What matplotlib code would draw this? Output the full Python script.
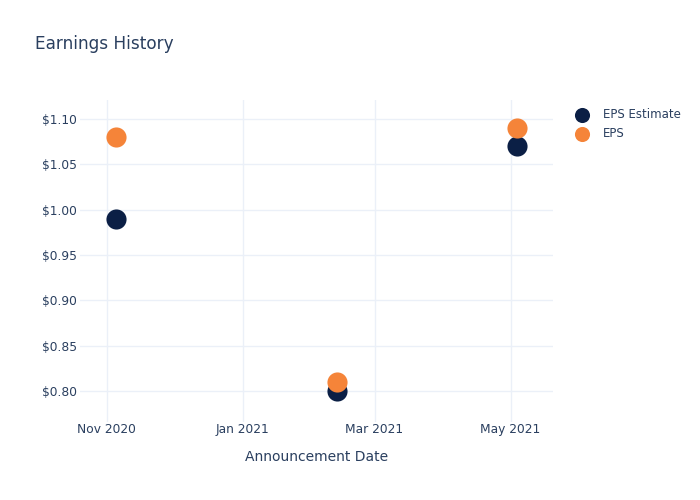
import matplotlib
matplotlib.use("Agg")
import matplotlib.pyplot as plt
import pandas as pd

dates = pd.to_datetime(["2020-11-05", "2021-02-12", "2021-05-04"])
eps_estimate = [0.99, 0.80, 1.07]
eps_actual = [1.08, 0.81, 1.09]
tick_dates = pd.to_datetime(["2020-11-01", "2021-01-01", "2021-03-01", "2021-05-01"])
tick_labels = ["Nov 2020", "Jan 2021", "Mar 2021", "May 2021"]
y_ticks = [0.80, 0.85, 0.90, 0.95, 1.00, 1.05, 1.10]

txt = "#2a3f5f"
grid = "#ebf0f8"
plt.rcParams['font.family'] = ['DejaVu Sans']

fig = plt.figure(figsize=(7, 5), dpi=100)
ax = fig.add_axes([80/700, 1-422/500, (553-80)/700, (422-100)/500])
ax.scatter(dates, eps_estimate, s=210, color="#0b1f45", label="EPS Estimate", zorder=3, linewidths=0)
ax.scatter(dates, eps_actual, s=210, color="#f58439", label="EPS", zorder=3, linewidths=0)

ax.set_xlim(pd.Timestamp("2020-10-20"), pd.Timestamp("2021-05-20"))
ax.set_ylim(0.766, 1.121)
ax.set_xticks(tick_dates)
ax.set_xticklabels(tick_labels)
ax.set_yticks(y_ticks)
ax.set_yticklabels([f"${v:.2f}" for v in y_ticks])
ax.grid(True, color=grid, linewidth=1)
ax.set_axisbelow(True)
for s in ax.spines.values():
    s.set_visible(False)
ax.tick_params(length=0, colors=txt, labelsize=8.8)
ax.tick_params(axis="y", pad=2)
ax.tick_params(axis="x", pad=0.5)
ax.set_xlabel("Announcement Date", color=txt, fontsize=10, labelpad=10)

fig.text(35/700, 1-44/500, "Earnings History", color=txt, fontsize=12.2, va="center", ha="left")
leg = fig.legend(loc="upper left", bbox_to_anchor=(565/700, 1-103/500), frameon=False,
                 fontsize=8.5, labelcolor=txt, handletextpad=0.8, borderaxespad=0,
                 markerscale=0.75, labelspacing=0.5)
fig.savefig("out.png", dpi=100, facecolor="white")
